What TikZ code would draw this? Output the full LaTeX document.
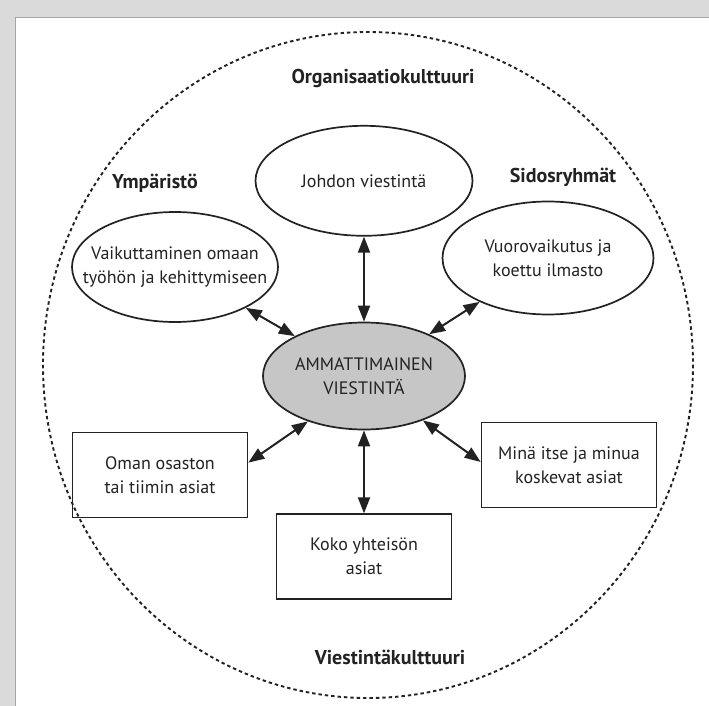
\documentclass[tikz,border=0pt]{standalone}
\usepackage{fontspec}
\setmainfont{PT Sans}
\usepackage{tikz}
\usetikzlibrary{arrows.meta, shapes.geometric, positioning}

\definecolor{ink}{HTML}{222222}
\definecolor{hubgrey}{HTML}{C6C6C6}
\definecolor{pagegrey}{HTML}{DADADA}

% zero-width line, so the ellipse keeps its given size
\newcommand{\eline}[1]{\makebox[0pt]{#1}}

\begin{document}
\begin{tikzpicture}[
  x=1pt, y=-1pt,
  ell/.style={draw=ink, ellipse, line width=1.7pt, inner sep=0pt, align=center,
              text=ink, font=\fontsize{18}{24}\selectfont},
  box/.style={draw=ink, rectangle, line width=1.7pt, minimum width=175pt,
              minimum height=85pt, align=center, text=ink,
              font=\fontsize{18}{24}\selectfont},
  lbl/.style={text=ink, font=\bfseries\fontsize{20}{24}\selectfont},
  arr/.style={{Triangle[length=16pt,width=12pt]}-{Triangle[length=16pt,width=12pt]},
              line width=2pt, draw=ink, fill=ink}
]
  \useasboundingbox (0,0) rectangle (709,706);
  % page
  \fill[pagegrey] (0,0) rectangle (709,706);
  \fill[white] (15,18) rectangle (709,706);
  \draw[black!35, line width=1pt] (15,706) -- (15,18) -- (709,18);

  % outer circle
  \draw[ink, line width=1.9pt, dash pattern=on 3.4pt off 3pt]
    (368,365) ellipse [x radius=325, y radius=333];

  % nodes
  \node[ell, fill=hubgrey, minimum width=202pt, minimum height=107pt] (hub) at (364,376)
    {\eline{AMMATTIMAINEN}\\\eline{VIESTINTÄ}};
  \node[ell, minimum width=217pt, minimum height=110pt, above=85pt of hub] (johdon)
    {\eline{Johdon viestintä}};
  \node[ell, minimum width=206pt, minimum height=110pt] (vaikut) at (175,267)
    {\eline{Vaikuttaminen omaan}\\\eline{työhön ja kehittymiseen}};
  \node[ell, minimum width=211pt, minimum height=113pt] (vuoro) at (548,258)
    {\eline{Vuorovaikutus ja}\\\eline{koettu ilmasto}};
  \node[box] (oman) at (160,475) {Oman osaston\\tai tiimin asiat};
  \node[box] (mina) at (569,465) {Minä itse ja minua\\koskevat asiat};
  \node[box, below=83pt of hub] (koko) {Koko yhteisön\\asiat};

  % labels
  \node[lbl] (orgk) at (383,78) {Organisaatiokulttuuri};
  \node[lbl] (ymp) at (155,183) {Ympäristö};
  \node[lbl] (sidos) at (563,177) {Sidosryhmät};
  \node[lbl] (viestk) at (390,657) {Viestintäkulttuuri};

  % arrows
  \draw[arr] (johdon) -- (hub);
  \draw[arr] (vaikut) -- (hub);
  \draw[arr] (vuoro) -- (hub);
  \draw[arr] (hub.219) -- (oman.8);
  \draw[arr] (hub.323) -- (mina.178);
  \draw[arr] (hub) -- (koko);
\end{tikzpicture}
\end{document}
